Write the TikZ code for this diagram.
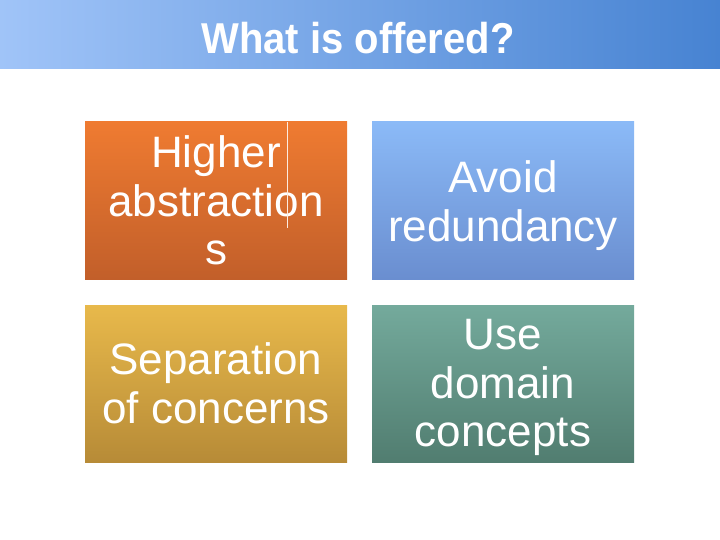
\documentclass[tikz,border=0pt]{standalone}
\usepackage{fontspec}
\setmainfont{Liberation Sans}
\definecolor{barL}{HTML}{A0C4F8}
\definecolor{barR}{HTML}{4783D2}
\definecolor{orT}{HTML}{EF7B31}
\definecolor{orB}{HTML}{C25F2A}
\definecolor{blT}{HTML}{8BBAF7}
\definecolor{blB}{HTML}{6A8ED0}
\definecolor{goT}{HTML}{E8B94B}
\definecolor{goB}{HTML}{B78B37}
\definecolor{teT}{HTML}{74AA9C}
\definecolor{teB}{HTML}{517D70}
\begin{document}
\begin{tikzpicture}[x=1pt,y=-1pt,
  tile/.style={minimum width=262pt,minimum height=157pt,inner sep=0pt},
  tiletext/.style={inner sep=0pt,text=white,align=center,font=\fontsize{44}{48.5}\selectfont},
  title/.style={text=white,font=\bfseries\fontsize{40}{44}\selectfont}]
\useasboundingbox (0,0) rectangle (720,540);
\fill[left color=barL,right color=barR] (0,0) rectangle (720,69);
\node[title] (t) at (358,38) {\scalebox{1}[1.08]{What is offered?}};
\node[tile,top color=orT,bottom color=orB] (a) at (216,200.5) {};
\node[tile,top color=blT,bottom color=blB] (b) at (503,200.5) {};
\node[tile,top color=goT,bottom color=goB] (c) at (216,383.5) {};
\node[tile,top color=teT,bottom color=teB] (d) at (503,383.5) {};
\node[tiletext] (at) at (a.center) {Higher\\abstraction\\s};
\node[tiletext] (bt) at ([yshift=-5pt]b.center) {Avoid\\redundancy};
\node[tiletext] (ct) at (c.center) {Separation\\of concerns};
\node[tiletext] (dt) at ([yshift=-4pt]d.center) {Use\\domain\\concepts};
\draw[white!85!orT,line width=0.8pt] (287,122) -- (287,228);
\end{tikzpicture}
\end{document}
